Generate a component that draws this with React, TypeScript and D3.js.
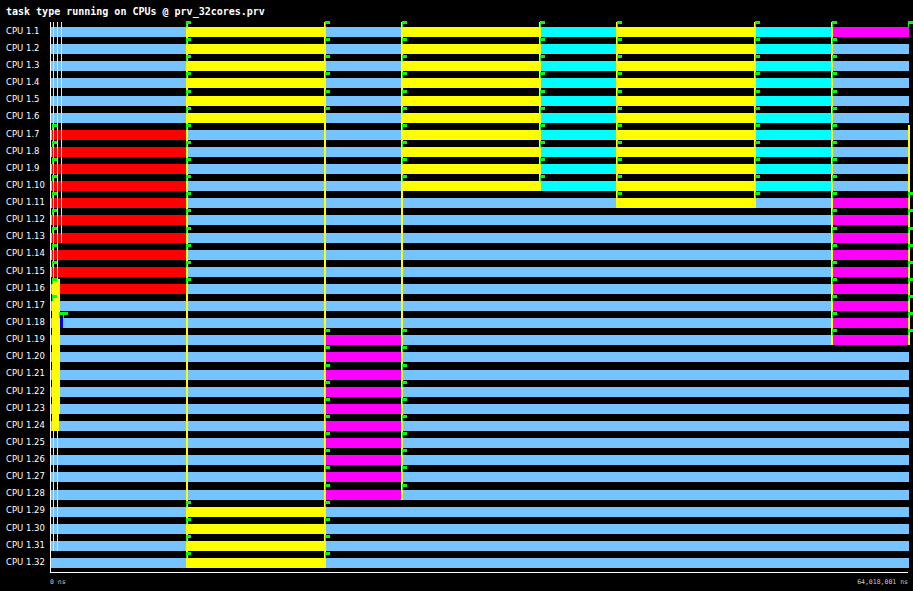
import React from "react";
import * as d3 from "d3";

const TITLE = "task type running on CPUs @ prv_32cores.prv";
const CPUS = [
  "CPU 1.1", "CPU 1.2", "CPU 1.3", "CPU 1.4", "CPU 1.5", "CPU 1.6", "CPU 1.7", "CPU 1.8",
  "CPU 1.9", "CPU 1.10", "CPU 1.11", "CPU 1.12", "CPU 1.13", "CPU 1.14", "CPU 1.15", "CPU 1.16",
  "CPU 1.17", "CPU 1.18", "CPU 1.19", "CPU 1.20", "CPU 1.21", "CPU 1.22", "CPU 1.23", "CPU 1.24",
  "CPU 1.25", "CPU 1.26", "CPU 1.27", "CPU 1.28", "CPU 1.29", "CPU 1.30", "CPU 1.31", "CPU 1.32",
];
const START_LABEL = "0 ns";
const END_LABEL = "64,018,001 ns";
const END_MS = 64.018001;

// state timelines (ms): [state, start, end]
const PATTERNS: [string, number, number][][] = [
  [["I", 0, 10.14], ["Y", 10.14, 20.49], ["I", 20.49, 26.23], ["Y", 26.23, 36.52], ["C", 36.52, 42.26], ["Y", 42.26, 52.54], ["C", 52.54, 58.28], ["M", 58.28, END_MS]],
  [["I", 0, 10.14], ["Y", 10.14, 20.49], ["I", 20.49, 26.23], ["Y", 26.23, 36.52], ["C", 36.52, 42.26], ["Y", 42.26, 52.54], ["C", 52.54, 58.28], ["I", 58.28, END_MS]],
  [["I", 0, 0.15], ["R", 0.15, 10.14], ["I", 10.14, 26.23], ["Y", 26.23, 36.52], ["C", 36.52, 42.26], ["Y", 42.26, 52.54], ["C", 52.54, 58.28], ["I", 58.28, END_MS]],
  [["I", 0, 0.15], ["R", 0.15, 10.14], ["I", 10.14, 42.26], ["Y", 42.26, 52.54], ["I", 52.54, 58.28], ["M", 58.28, END_MS]],
  [["I", 0, 0.15], ["R", 0.15, 10.14], ["I", 10.14, 58.28], ["M", 58.28, END_MS]],
  [["I", 0, 58.28], ["M", 58.28, END_MS]],
  [["I", 0, 0.67], ["B", 0.67, 0.97], ["I", 0.97, 58.28], ["M", 58.28, END_MS]],
  [["I", 0, 20.49], ["M", 20.49, 26.23], ["I", 26.23, 58.28], ["M", 58.28, END_MS]],
  [["I", 0, 20.49], ["M", 20.49, 26.23], ["I", 26.23, END_MS]],
  [["I", 0, 10.14], ["Y", 10.14, 20.49], ["I", 20.49, END_MS]],
];
const ROW_PATTERN = [0, 1, 1, 1, 1, 1, 2, 2, 2, 2, 3, 4, 4, 4, 4, 4, 5, 6, 7, 8, 8, 8, 8, 8, 8, 8, 8, 8, 9, 9, 9, 9];

// communication lines: [time ms, fromRow, toRow]
const COMMS: [number, number, number][] = [
  [0.224, 0, 30], [0.522, 0, 30], [0.82, 0, 12],
  [0.149, 15, 23], [0.298, 15, 23], [0.373, 15, 23], [0.447, 15, 23], [0.596, 15, 23], [0.671, 15, 22],
  [10.14, 0, 31], [20.42, 0, 31], [26.16, 0, 27], [36.45, 0, 9], [42.19, 0, 10],
  [52.5, 0, 10], [58.22, 0, 18], [63.94, 6, 18],
];
const EXTRA_FLAGS: [number, number][] = [[16, 0.15]];

const COLORS: Record<string, string> = {
  I: "rgb(117,195,255)",
  Y: "#ffff00",
  C: "#00ffff",
  M: "#ff00ff",
  R: "#ff0000",
  B: "#0000ff",
};

export default function App() {
  const W = 913, H = 591;
  const x = d3.scaleLinear().domain([0, END_MS]).range([50, 909]);
  const y = d3.scaleBand<string>().domain(CPUS).range([21, 21 + 32 * 17.13]);
  const barTop = (i: number) => (y(CPUS[i]) as number) + 6;
  const barH = 10;

  const flags: { row: number; px: number }[] = [];
  ROW_PATTERN.forEach((p, r) => {
    const segs = PATTERNS[p];
    segs.forEach((s, k) => {
      if (s[1] > 0) flags.push({ row: r, px: x(s[1]) });
      if (k === segs.length - 1 && s[0] !== "I") flags.push({ row: r, px: x(s[2]) - 1 });
    });
  });
  EXTRA_FLAGS.forEach(([r, t]) => flags.push({ row: r, px: x(t) }));

  return (
    <div style={{ position: "fixed", left: 0, top: 0, width: W, height: H, background: "#000" }}>
      <svg width={W} height={H} style={{ display: "block" }} shapeRendering="crispEdges">
        <rect x={0} y={0} width={W} height={H} fill="#000" />
        <text x={6} y={14.5} fill="#fff" fontFamily="DejaVu Sans Mono" fontWeight="bold" fontSize={10}>
          {TITLE}
        </text>
        {CPUS.map((c, i) => (
          <text key={c} x={6} y={barTop(i) + 6.8} fill="#fff" fontFamily="DejaVu Sans" fontSize={8.5}>
            {c}
          </text>
        ))}
        {ROW_PATTERN.map((p, r) =>
          PATTERNS[p].map((s, k) => (
            <rect
              key={`${r}-${k}`}
              x={x(s[1])}
              y={barTop(r)}
              width={Math.max(1, x(s[2]) - x(s[1]))}
              height={barH}
              fill={COLORS[s[0]]}
            />
          ))
        )}
        {COMMS.map(([t, a, b], i) => (
          <line
            key={`c${i}`}
            x1={Math.round(x(t)) + 0.5}
            x2={Math.round(x(t)) + 0.5}
            y1={barTop(a) - 5}
            y2={barTop(b) + barH}
            stroke="#ffff00"
            strokeWidth={t > 5 ? 2 : 1}
          />
        ))}
        {flags.map((f, i) => {
          const px = Math.round(f.px);
          const top = barTop(f.row) - 6;
          return (
            <g key={`f${i}`}>
              <line x1={px + 0.5} x2={px + 0.5} y1={top} y2={top + 6} stroke="#00ff00" strokeWidth={1} />
              <rect x={px + 1} y={top} width={4} height={3} fill="#00ff00" />
            </g>
          );
        })}
        <line x1={50.5} x2={50.5} y1={22} y2={572} stroke="#fff" strokeWidth={1} />
        <line x1={50} x2={908} y1={572.5} y2={572.5} stroke="#fff" strokeWidth={1} />
        <text x={50} y={583.5} fill="#c8c8c8" fontFamily="DejaVu Sans Mono" fontSize={6.5}>
          {START_LABEL}
        </text>
        <text x={908} y={583.5} fill="#c8c8c8" fontFamily="DejaVu Sans Mono" fontSize={6.5} textAnchor="end">
          {END_LABEL}
        </text>
      </svg>
    </div>
  );
}
